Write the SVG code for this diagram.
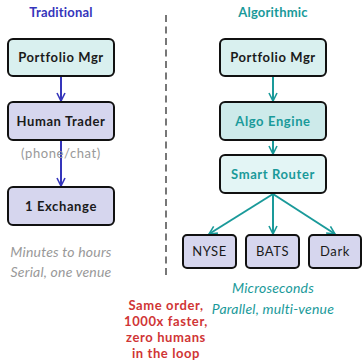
<svg xmlns="http://www.w3.org/2000/svg" width="363" height="360" viewBox="0 0 363 360">
<defs>
<marker id="ab" viewBox="0 0 10 10" refX="9" refY="5" markerWidth="10" markerHeight="10" markerUnits="userSpaceOnUse" orient="auto"><path d="M1,1 L9,5 L1,9" fill="none" stroke="#3535bb" stroke-width="1.6"/></marker>
<marker id="at" viewBox="0 0 10 10" refX="9" refY="5" markerWidth="10" markerHeight="10" markerUnits="userSpaceOnUse" orient="auto"><path d="M1,1 L9,5 L1,9" fill="none" stroke="#1a9a9a" stroke-width="1.6"/></marker>
</defs>
<style>
text{font-family:Lato,"DejaVu Sans",sans-serif;text-anchor:middle}
.box{stroke:#111;stroke-width:2}
.pm{fill:#d9f0ef}
.lav{fill:#d6d6ee}
.ae{fill:#cdeaea}
.sr{fill:#e3f5f5}
.lbl{font-size:13px;font-weight:bold;fill:#1a1a1a;letter-spacing:0.6px}
.tl{font-size:13px;font-weight:bold;fill:#1a9a9a;letter-spacing:0.6px}
.vn{font-size:13px;fill:#1a1a1a;letter-spacing:0.6px}
.hd{font-size:13px;font-weight:bold;letter-spacing:0.2px}
.it{font-size:14px;font-style:italic;letter-spacing:0.2px}
.cb{stroke:#3535bb;stroke-width:2;fill:none;marker-end:url(#ab)}
.ct{stroke:#1a9a9a;stroke-width:2;fill:none;marker-end:url(#at)}
</style>
<text x="61" y="17" class="hd" fill="#3535bb">Traditional</text>
<text x="273" y="17" class="hd" fill="#1a9a9a">Algorithmic</text>
<line x1="166" y1="15" x2="166" y2="278" stroke="#777" stroke-width="2" stroke-dasharray="7,4.5"/>
<g id="connectors">
<line class="cb" x1="61" y1="77" x2="61" y2="101"/>
<line class="cb" x1="61" y1="141" x2="61" y2="186"/>
<line class="ct" x1="273" y1="77" x2="273" y2="101"/>
<line class="ct" x1="273" y1="141" x2="273" y2="154"/>
<line class="ct" x1="273" y1="194" x2="209" y2="234"/>
<line class="ct" x1="273" y1="194" x2="273" y2="234"/>
<line class="ct" x1="273" y1="194" x2="335" y2="234"/>
</g>
<g id="pm-left"><rect class="box pm" x="8" y="39" width="106" height="37" rx="5"/><text x="61" y="62" class="lbl">Portfolio Mgr</text></g>
<g id="human-trader"><rect class="box lav" x="8" y="102" width="106" height="38" rx="5"/><text x="61" y="125.5" class="lbl">Human Trader</text></g>
<text x="61" y="157.5" font-size="13" fill="#999" letter-spacing="0.6">(phone/chat)</text>
<g id="exchange"><rect class="box lav" x="8" y="187" width="106" height="38" rx="5"/><text x="61" y="210.5" class="lbl">1 Exchange</text></g>
<text x="61" y="256.5" class="it" fill="#999">Minutes to hours</text>
<text x="61" y="276.5" class="it" fill="#999">Serial, one venue</text>
<g id="pm-right"><rect class="box pm" x="220" y="39" width="106" height="37" rx="5"/><text x="273" y="62" class="lbl">Portfolio Mgr</text></g>
<g id="algo-engine"><rect class="box ae" x="220" y="102" width="106" height="38" rx="5"/><text x="273" y="125.5" class="tl">Algo Engine</text></g>
<g id="smart-router"><rect class="box sr" x="220" y="155" width="106" height="38" rx="5"/><text x="273" y="178.5" class="tl">Smart Router</text></g>
<g id="nyse"><rect class="box lav" x="183" y="235" width="53" height="33" rx="4"/><text x="209.5" y="256" class="vn">NYSE</text></g>
<g id="bats"><rect class="box lav" x="246" y="235" width="53" height="33" rx="4"/><text x="272.5" y="256" class="vn">BATS</text></g>
<g id="dark"><rect class="box lav" x="309" y="235" width="52" height="33" rx="4"/><text x="335" y="256" class="vn">Dark</text></g>
<text x="273" y="292.5" class="it" fill="#1a9a9a">Microseconds</text>
<text x="273" y="313.5" class="it" fill="#1a9a9a">Parallel, multi-venue</text>
<g font-size="13" font-weight="bold" fill="#d03535" letter-spacing="0.6">
<text x="166" y="310">Same order,</text>
<text x="166" y="326">1000x faster,</text>
<text x="166" y="342">zero humans</text>
<text x="166" y="357.5">in the loop</text>
</g>
</svg>
